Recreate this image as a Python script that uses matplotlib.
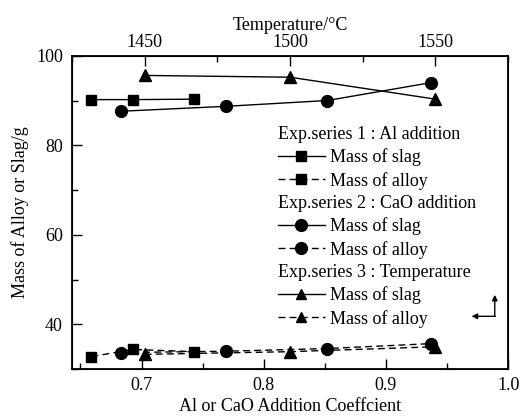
import matplotlib
matplotlib.use("Agg")
import matplotlib.pyplot as plt
from matplotlib.lines import Line2D
from matplotlib.ticker import MultipleLocator

plt.rcParams['font.family'] = ['Liberation Serif', 'DejaVu Serif']

# series 1: Al addition (bottom axis)
al_coef = [0.659, 0.693, 0.743]
al_slag = [90.2, 90.2, 90.3]
al_alloy = [32.8, 34.4, 33.9]

# series 2: CaO addition (bottom axis)
cao_coef = [0.683, 0.769, 0.852, 0.937]
cao_slag = [87.6, 88.7, 90.0, 94.0]
cao_alloy = [33.7, 34.0, 34.6, 35.7]

# series 3: temperature (top axis)
temps = [1450, 1500, 1550]
t_slag = [95.6, 95.2, 90.3]
t_alloy = [33.3, 33.9, 35.0]

dash = (0, (5, 3))

fig, ax = plt.subplots(figsize=(5.25, 4.19), dpi=100)
fig.subplots_adjust(left=0.137, right=0.968, top=0.867, bottom=0.119)

ax.plot(al_coef, al_slag, color='black', lw=1, marker='s', ms=7.5)
ax.plot(al_coef, al_alloy, color='black', lw=1, ls=dash, marker='s', ms=7.5)
ax.plot(cao_coef, cao_slag, color='black', lw=1, marker='o', ms=8.5)
ax.plot(cao_coef, cao_alloy, color='black', lw=1, ls=dash, marker='o', ms=8.5)

ax.set_xlim(0.643, 1.0)
ax.set_ylim(30, 100)
ax.xaxis.set_minor_locator(MultipleLocator(0.05))
ax.yaxis.set_minor_locator(MultipleLocator(10))
ax.set_xticks([0.7, 0.8, 0.9, 1.0])
ax.set_xticklabels(['0.7', '0.8', '0.9', '1.0'])
ax.set_yticks([40, 60, 80, 100])
ax.tick_params(which='both', direction='in', labelsize=13, right=False)
ax.tick_params(which='major', length=7, width=1)
ax.tick_params(which='minor', length=4, width=1)
ax.tick_params(axis='x', pad=5.5)
ax.tick_params(axis='y', pad=6.5)
ax.set_xlabel('Al or CaO Addition Coeffcient', fontsize=13, labelpad=3)
ax.set_ylabel('Mass of Alloy or Slag/g', fontsize=13, labelpad=5)
for s in ax.spines.values():
    s.set_linewidth(1.3)

ax2 = ax.twiny()
ax2.plot(temps, t_slag, color='black', lw=1, marker='^', ms=8.5)
ax2.plot(temps, t_alloy, color='black', lw=1, ls=dash, marker='^', ms=8.5)
ax2.set_xlim(1425, 1575)
ax2.set_xticks([1450, 1500, 1550])
ax2.xaxis.set_minor_locator(MultipleLocator(25))
ax2.tick_params(which='both', direction='in', labelsize=13)
ax2.tick_params(which='major', length=7, width=1)
ax2.tick_params(which='minor', length=4, width=1)
ax2.set_xlabel('Temperature/°C', fontsize=13, labelpad=3)

# legend with sub-headings
blank = Line2D([], [], linestyle='none')
handles = [
    blank,
    Line2D([], [], color='black', lw=1, marker='s', ms=7.5),
    Line2D([], [], color='black', lw=1, ls=dash, marker='s', ms=7.5),
    blank,
    Line2D([], [], color='black', lw=1, marker='o', ms=8.5),
    Line2D([], [], color='black', lw=1, ls=dash, marker='o', ms=8.5),
    blank,
    Line2D([], [], color='black', lw=1, marker='^', ms=7),
    Line2D([], [], color='black', lw=1, ls=dash, marker='^', ms=7),
]
labels = ['Exp.series 1 : Al addition', 'Mass of slag', 'Mass of alloy',
          'Exp.series 2 : CaO addition', 'Mass of slag', 'Mass of alloy',
          'Exp.series 3 : Temperature', 'Mass of slag', 'Mass of alloy']
headers = {0, 3, 6}
leg = ax.legend(handles, labels, loc='upper left', bbox_to_anchor=(0.472, 0.776),
                frameon=False, fontsize=13, handlelength=2.6, handletextpad=0.28,
                labelspacing=0.3, borderaxespad=0, borderpad=0)
rows = [hp for vp in leg._legend_handle_box.get_children() for hp in vp.get_children()]
for i, hp in enumerate(rows):
    if i in headers:
        da = hp.get_children()[0]
        da.set_width(0)
        hp.sep = 0

# small corner arrows
ax.annotate('', xy=(0.989, 46.6), xytext=(0.989, 41.8),
            arrowprops=dict(arrowstyle='-|>', color='black', lw=1, mutation_scale=8,
                            shrinkA=0, shrinkB=0))
ax.annotate('', xy=(0.970, 41.8), xytext=(0.9895, 41.8),
            arrowprops=dict(arrowstyle='-|>', color='black', lw=1, mutation_scale=8,
                            shrinkA=0, shrinkB=0))

fig.savefig('out.png', dpi=100)
